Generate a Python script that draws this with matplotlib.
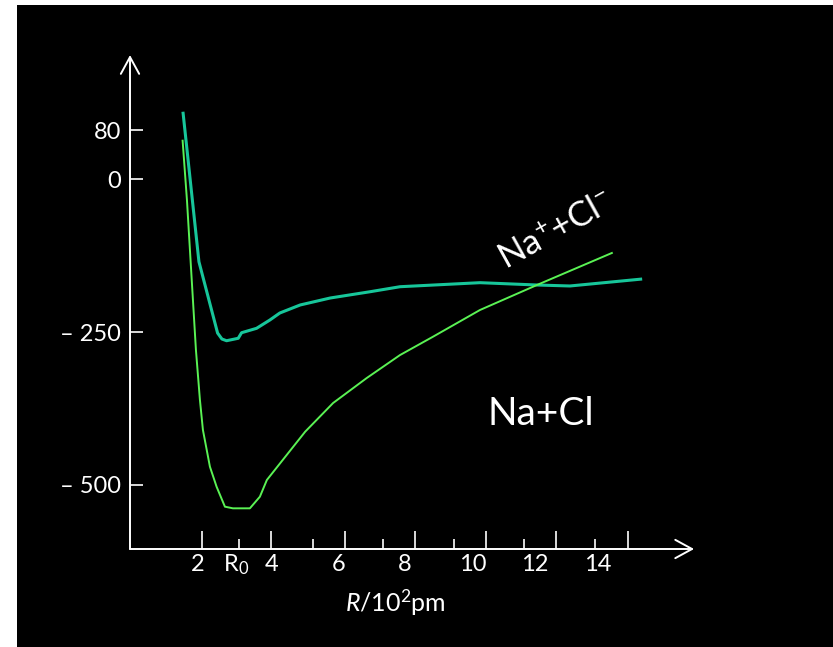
import matplotlib
matplotlib.use("Agg")
import matplotlib.pyplot as plt
from matplotlib.patches import Rectangle

plt.rcParams['font.family'] = ['Lato', 'DejaVu Sans']
plt.rcParams['mathtext.fontset'] = 'custom'
plt.rcParams['mathtext.rm'] = 'Lato'
plt.rcParams['mathtext.it'] = 'Lato:italic'
plt.rcParams['mathtext.default'] = 'regular'

# ---- data (R in 10^2 pm, E in kJ/mol) ----
ion_R = [1.59, 2.07, 2.63, 2.76, 2.90, 3.25, 3.35, 3.80, 4.20, 4.50, 5.11, 6.01,
         7.21, 8.11, 10.51, 12.22, 13.21, 15.38]
ion_E = [110.6, -134.9, -251.6, -261.4, -264.2, -260.2, -251.1, -243.9, -230.3,
         -218.8, -205.7, -194.3, -184.0, -175.8, -169.2, -173.0, -174.6, -163.2]

atom_R = [1.58, 1.71, 1.80, 1.89, 1.98, 2.10, 2.19, 2.40, 2.60, 2.85, 3.09, 3.60,
          3.90, 4.11, 5.26, 6.10, 7.11, 8.11, 9.10, 10.51, 12.22, 14.47]
atom_E = [63.2, -33.9, -115.7, -197.6, -279.4, -361.2, -410.3, -470.4, -503.1,
          -535.8, -538.5, -538.5, -519.5, -492.1, -413.1, -366.1, -325.2, -287.6,
          -257.6, -213.9, -173.0, -120.6]

y_ticks = [80, 0, -250, -500]
y_tick_labels = ['80', '0', '\u2013 250', '\u2013 500']
x_major_ticks = [2.16, 4.23, 6.46, 8.56, 10.69, 12.79, 14.95]
x_minor_ticks = [3.27, 5.50, 7.60, 9.73, 11.83, 13.96]
x_label_pos = [2.04, 3.18, 4.26, 6.25, 8.26, 10.30, 12.16, 14.05]
x_label_text = ['2', 'R$_0$', '4', '6', '8', '10', '12', '14']

ion_color = '#17c69a'
atom_color = '#5af254'

W, H = 833, 647
fig = plt.figure(figsize=(W / 100, H / 100), dpi=100, facecolor='white')
fig.patches.append(Rectangle((17 / W, 0), (W - 17) / W, (H - 5) / H,
                             transform=fig.transFigure, facecolor='black',
                             edgecolor='none', zorder=-10))

ax = fig.add_axes([130 / W, 98 / H, 570 / W, 499 / H])
ax.set_facecolor('none')
ax.set_xlim(0, 17.117)
ax.set_ylim(-605.07, 211.62)
for s in ax.spines.values():
    s.set_visible(False)

ax.plot(ion_R, ion_E, color=ion_color, lw=2.2, solid_capstyle='butt',
        solid_joinstyle='round', clip_on=False)
ax.plot(atom_R, atom_E, color=atom_color, lw=1.4, solid_joinstyle='round',
        clip_on=False)

# axes with open arrowheads
arrow = dict(arrowstyle='->,head_length=0.55,head_width=0.3', color='white',
             lw=1.4, mutation_scale=22, shrinkA=0, shrinkB=0)
ax.annotate('', xy=(0, 203.4), xytext=(0, -605.07), arrowprops=arrow,
            annotation_clip=False)
ax.annotate('', xy=(16.94, -605.07), xytext=(0, -605.07), arrowprops=arrow,
            annotation_clip=False)

# ticks
ax.set_yticks(y_ticks, labels=y_tick_labels)
ax.tick_params(axis='y', direction='in', length=9, width=1.2, color='white',
               labelcolor='white', labelsize=17, pad=6.5)
ax.set_xticks(x_major_ticks, labels=[])
ax.set_xticks(x_minor_ticks, minor=True)
ax.tick_params(axis='x', which='major', direction='in', length=13, width=1.2,
               color='white')
ax.tick_params(axis='x', which='minor', direction='in', length=7, width=1.2,
               color='white')

trans = ax.get_xaxis_transform()
for xp, lab in zip(x_label_pos, x_label_text):
    ax.text(xp, -0.032, lab, transform=trans, ha='center', va='center',
            color='white', fontsize=17)

ax.text(0.465, -0.108, r'$\it{R}$/10$^2$pm', transform=ax.transAxes,
        ha='center', va='center', color='white', fontsize=18)

ax.text(12.33, -383.6, 'Na+Cl', ha='center', va='center', color='white',
        fontsize=28)
ax.text(12.79, -84.4, r'Na$^{+}$+Cl$^{-}$', ha='center', va='center',
        color='white', fontsize=25, rotation=29, rotation_mode='anchor')

fig.savefig('out.png', dpi=100, facecolor='white')
